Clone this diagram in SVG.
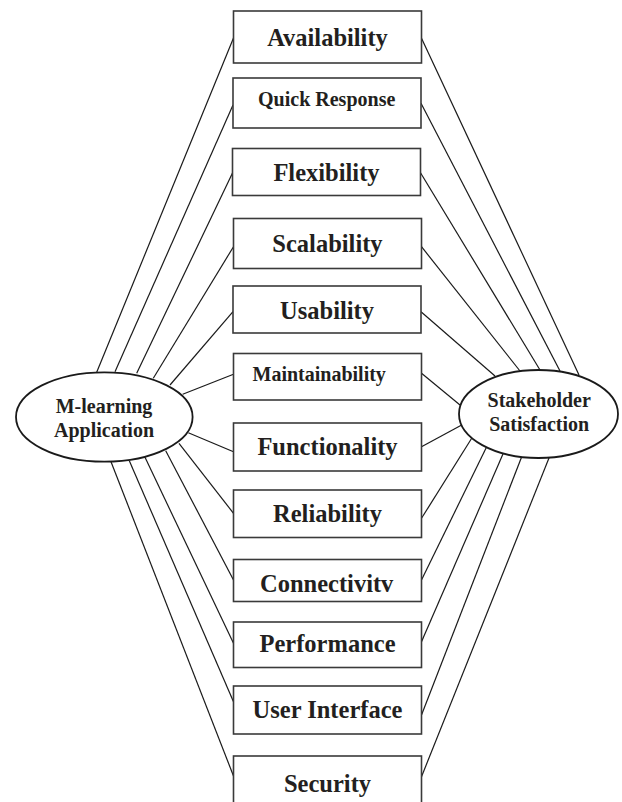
<svg xmlns="http://www.w3.org/2000/svg" width="622" height="802" viewBox="0 0 622 802">
  <style>
    .box { fill: #ffffff; stroke: #3a3a3a; stroke-width: 1.6; }
    .hub { fill: #ffffff; stroke: #1a1a1a; stroke-width: 1.8; }
    .lbl { font-family: "Liberation Serif", "Times New Roman", serif; font-weight: bold; fill: #231f20; text-anchor: middle; }
    .big { font-size: 24.5px; }
    .small { font-size: 20px; }
    .links line { stroke: #1a1a1a; stroke-width: 1.2; }
  </style>
  <rect width="622" height="802" fill="#ffffff"/>

  <!-- connectors: application hub to each quality, each quality to satisfaction hub -->
  <g id="connectors" class="links">
    <line x1="96.7" y1="372.3" x2="233.5" y2="38"/>
    <line x1="115" y1="371.7" x2="233" y2="105"/>
    <line x1="136.7" y1="373.3" x2="232.5" y2="173"/>
    <line x1="153.3" y1="378.3" x2="233.5" y2="246.7"/>
    <line x1="170" y1="385" x2="233" y2="311.7"/>
    <line x1="182.7" y1="394.3" x2="233.5" y2="374.3"/>
    <line x1="188.3" y1="432.7" x2="233.5" y2="451.7"/>
    <line x1="179" y1="443.3" x2="233.5" y2="513.3"/>
    <line x1="165.7" y1="450.7" x2="233.5" y2="580"/>
    <line x1="145" y1="457.3" x2="233.5" y2="643.3"/>
    <line x1="129.3" y1="460.7" x2="233.5" y2="701.7"/>
    <line x1="111" y1="461.7" x2="233.5" y2="776"/>

    <line x1="421.5" y1="38.3" x2="579" y2="375"/>
    <line x1="421" y1="103.3" x2="560" y2="371"/>
    <line x1="420.5" y1="172.7" x2="540" y2="370"/>
    <line x1="421.5" y1="246.7" x2="520" y2="371"/>
    <line x1="421" y1="311.7" x2="495" y2="376"/>
    <line x1="421.5" y1="373.3" x2="460" y2="405"/>
    <line x1="421.5" y1="446.7" x2="461.7" y2="425"/>
    <line x1="421.5" y1="518.3" x2="471.7" y2="438.3"/>
    <line x1="421.5" y1="580" x2="486.7" y2="446.7"/>
    <line x1="421.5" y1="641.7" x2="503.3" y2="453.3"/>
    <line x1="421.5" y1="715" x2="521.7" y2="456.7"/>
    <line x1="421.5" y1="776.7" x2="549.3" y2="457.3"/>
  </g>

  <g id="m-learning-application">
    <ellipse class="hub" cx="104.3" cy="417" rx="88.3" ry="44.7"/>
    <text class="lbl small" x="104" y="412.7">M-learning</text>
    <text class="lbl small" x="104" y="436.7">Application</text>
  </g>

  <g id="stakeholder-satisfaction">
    <ellipse class="hub" cx="538.5" cy="414" rx="79.5" ry="44"/>
    <text class="lbl small" x="539.2" y="406.7">Stakeholder</text>
    <text class="lbl small" x="539.2" y="431">Satisfaction</text>
  </g>

  <g id="availability">
    <rect class="box" x="233.5" y="11" width="188" height="52"/>
    <text class="lbl big" x="327.5" y="45.7">Availability</text>
  </g>
  <g id="quick-response">
    <rect class="box" x="233" y="78" width="188" height="50"/>
    <text class="lbl small" x="326.7" y="106">Quick Response</text>
  </g>
  <g id="flexibility">
    <rect class="box" x="232.5" y="148.5" width="188" height="47"/>
    <text class="lbl big" x="326.5" y="180.7">Flexibility</text>
  </g>
  <g id="scalability">
    <rect class="box" x="233.5" y="218.5" width="188" height="50"/>
    <text class="lbl big" x="327.5" y="251.7">Scalability</text>
  </g>
  <g id="usability">
    <rect class="box" x="233" y="286" width="188" height="47"/>
    <text class="lbl big" x="327" y="319.3">Usability</text>
  </g>
  <g id="maintainability">
    <rect class="box" x="233.5" y="353.5" width="188" height="46.5"/>
    <text class="lbl small" x="319.2" y="380.7">Maintainability</text>
  </g>
  <g id="functionality">
    <rect class="box" x="233.5" y="423" width="188" height="48"/>
    <text class="lbl big" x="327.5" y="455">Functionality</text>
  </g>
  <g id="reliability">
    <rect class="box" x="233.5" y="490" width="188" height="47.5"/>
    <text class="lbl big" x="327.5" y="521.7">Reliability</text>
  </g>
  <g id="connectivity">
    <rect class="box" x="233.5" y="559.5" width="188" height="42"/>
    <text class="lbl big" x="326.7" y="591.7">Connectivitv</text>
  </g>
  <g id="performance">
    <rect class="box" x="233.5" y="622" width="188" height="45.5"/>
    <text class="lbl big" x="327.5" y="651.7">Performance</text>
  </g>
  <g id="user-interface">
    <rect class="box" x="233.5" y="686" width="188" height="48"/>
    <text class="lbl big" x="327.5" y="718.3">User Interface</text>
  </g>
  <g id="security">
    <rect class="box" x="233.5" y="756" width="188" height="60"/>
    <text class="lbl big" x="327.5" y="791.7">Security</text>
  </g>
</svg>
